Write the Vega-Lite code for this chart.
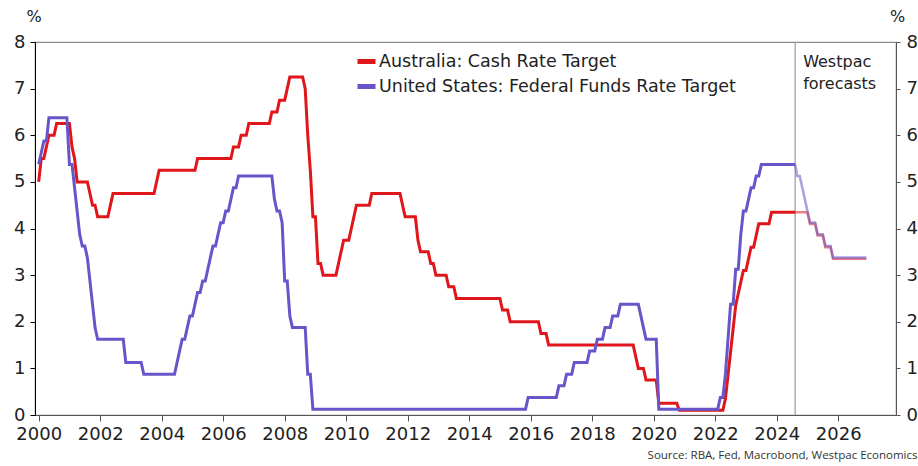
{
  "$schema": "https://vega.github.io/schema/vega-lite/v6.json",
  "width": 861,
  "height": 373,
  "autosize": {"type": "none"},
  "padding": {"left": 35, "top": 42, "right": 22, "bottom": 51},
  "background": "white",
  "config": {
    "font": "DejaVu Sans",
    "view": {"stroke": "#8a8a8a", "strokeWidth": 1.2}
  },
  "title": {
    "text": "Source: RBA, Fed, Macrobond, Westpac Economics",
    "orient": "bottom",
    "anchor": "end",
    "font": "Open Sans",
    "fontSize": 11.5,
    "fontWeight": "normal",
    "color": "#333",
    "offset": 7
  },
  "datasets": {
    "rates": [
      {"series": "Australia: Cash Rate Target", "phase": "Actual", "year": 2000.000, "rate": 5.00},
      {"series": "Australia: Cash Rate Target", "phase": "Actual", "year": 2000.083, "rate": 5.50},
      {"series": "Australia: Cash Rate Target", "phase": "Actual", "year": 2000.167, "rate": 5.50},
      {"series": "Australia: Cash Rate Target", "phase": "Actual", "year": 2000.250, "rate": 5.75},
      {"series": "Australia: Cash Rate Target", "phase": "Actual", "year": 2000.333, "rate": 6.00},
      {"series": "Australia: Cash Rate Target", "phase": "Actual", "year": 2000.500, "rate": 6.00},
      {"series": "Australia: Cash Rate Target", "phase": "Actual", "year": 2000.583, "rate": 6.25},
      {"series": "Australia: Cash Rate Target", "phase": "Actual", "year": 2001.000, "rate": 6.25},
      {"series": "Australia: Cash Rate Target", "phase": "Actual", "year": 2001.083, "rate": 5.75},
      {"series": "Australia: Cash Rate Target", "phase": "Actual", "year": 2001.167, "rate": 5.50},
      {"series": "Australia: Cash Rate Target", "phase": "Actual", "year": 2001.250, "rate": 5.00},
      {"series": "Australia: Cash Rate Target", "phase": "Actual", "year": 2001.583, "rate": 5.00},
      {"series": "Australia: Cash Rate Target", "phase": "Actual", "year": 2001.667, "rate": 4.75},
      {"series": "Australia: Cash Rate Target", "phase": "Actual", "year": 2001.750, "rate": 4.50},
      {"series": "Australia: Cash Rate Target", "phase": "Actual", "year": 2001.833, "rate": 4.50},
      {"series": "Australia: Cash Rate Target", "phase": "Actual", "year": 2001.917, "rate": 4.25},
      {"series": "Australia: Cash Rate Target", "phase": "Actual", "year": 2002.250, "rate": 4.25},
      {"series": "Australia: Cash Rate Target", "phase": "Actual", "year": 2002.333, "rate": 4.50},
      {"series": "Australia: Cash Rate Target", "phase": "Actual", "year": 2002.417, "rate": 4.75},
      {"series": "Australia: Cash Rate Target", "phase": "Actual", "year": 2003.750, "rate": 4.75},
      {"series": "Australia: Cash Rate Target", "phase": "Actual", "year": 2003.833, "rate": 5.00},
      {"series": "Australia: Cash Rate Target", "phase": "Actual", "year": 2003.917, "rate": 5.25},
      {"series": "Australia: Cash Rate Target", "phase": "Actual", "year": 2005.083, "rate": 5.25},
      {"series": "Australia: Cash Rate Target", "phase": "Actual", "year": 2005.167, "rate": 5.50},
      {"series": "Australia: Cash Rate Target", "phase": "Actual", "year": 2006.250, "rate": 5.50},
      {"series": "Australia: Cash Rate Target", "phase": "Actual", "year": 2006.333, "rate": 5.75},
      {"series": "Australia: Cash Rate Target", "phase": "Actual", "year": 2006.500, "rate": 5.75},
      {"series": "Australia: Cash Rate Target", "phase": "Actual", "year": 2006.583, "rate": 6.00},
      {"series": "Australia: Cash Rate Target", "phase": "Actual", "year": 2006.750, "rate": 6.00},
      {"series": "Australia: Cash Rate Target", "phase": "Actual", "year": 2006.833, "rate": 6.25},
      {"series": "Australia: Cash Rate Target", "phase": "Actual", "year": 2007.500, "rate": 6.25},
      {"series": "Australia: Cash Rate Target", "phase": "Actual", "year": 2007.583, "rate": 6.50},
      {"series": "Australia: Cash Rate Target", "phase": "Actual", "year": 2007.750, "rate": 6.50},
      {"series": "Australia: Cash Rate Target", "phase": "Actual", "year": 2007.833, "rate": 6.75},
      {"series": "Australia: Cash Rate Target", "phase": "Actual", "year": 2008.000, "rate": 6.75},
      {"series": "Australia: Cash Rate Target", "phase": "Actual", "year": 2008.083, "rate": 7.00},
      {"series": "Australia: Cash Rate Target", "phase": "Actual", "year": 2008.167, "rate": 7.25},
      {"series": "Australia: Cash Rate Target", "phase": "Actual", "year": 2008.583, "rate": 7.25},
      {"series": "Australia: Cash Rate Target", "phase": "Actual", "year": 2008.667, "rate": 7.00},
      {"series": "Australia: Cash Rate Target", "phase": "Actual", "year": 2008.750, "rate": 6.00},
      {"series": "Australia: Cash Rate Target", "phase": "Actual", "year": 2008.833, "rate": 5.25},
      {"series": "Australia: Cash Rate Target", "phase": "Actual", "year": 2008.917, "rate": 4.25},
      {"series": "Australia: Cash Rate Target", "phase": "Actual", "year": 2009.000, "rate": 4.25},
      {"series": "Australia: Cash Rate Target", "phase": "Actual", "year": 2009.083, "rate": 3.25},
      {"series": "Australia: Cash Rate Target", "phase": "Actual", "year": 2009.167, "rate": 3.25},
      {"series": "Australia: Cash Rate Target", "phase": "Actual", "year": 2009.250, "rate": 3.00},
      {"series": "Australia: Cash Rate Target", "phase": "Actual", "year": 2009.667, "rate": 3.00},
      {"series": "Australia: Cash Rate Target", "phase": "Actual", "year": 2009.750, "rate": 3.25},
      {"series": "Australia: Cash Rate Target", "phase": "Actual", "year": 2009.833, "rate": 3.50},
      {"series": "Australia: Cash Rate Target", "phase": "Actual", "year": 2009.917, "rate": 3.75},
      {"series": "Australia: Cash Rate Target", "phase": "Actual", "year": 2010.083, "rate": 3.75},
      {"series": "Australia: Cash Rate Target", "phase": "Actual", "year": 2010.167, "rate": 4.00},
      {"series": "Australia: Cash Rate Target", "phase": "Actual", "year": 2010.250, "rate": 4.25},
      {"series": "Australia: Cash Rate Target", "phase": "Actual", "year": 2010.333, "rate": 4.50},
      {"series": "Australia: Cash Rate Target", "phase": "Actual", "year": 2010.750, "rate": 4.50},
      {"series": "Australia: Cash Rate Target", "phase": "Actual", "year": 2010.833, "rate": 4.75},
      {"series": "Australia: Cash Rate Target", "phase": "Actual", "year": 2011.750, "rate": 4.75},
      {"series": "Australia: Cash Rate Target", "phase": "Actual", "year": 2011.833, "rate": 4.50},
      {"series": "Australia: Cash Rate Target", "phase": "Actual", "year": 2011.917, "rate": 4.25},
      {"series": "Australia: Cash Rate Target", "phase": "Actual", "year": 2012.250, "rate": 4.25},
      {"series": "Australia: Cash Rate Target", "phase": "Actual", "year": 2012.333, "rate": 3.75},
      {"series": "Australia: Cash Rate Target", "phase": "Actual", "year": 2012.417, "rate": 3.50},
      {"series": "Australia: Cash Rate Target", "phase": "Actual", "year": 2012.667, "rate": 3.50},
      {"series": "Australia: Cash Rate Target", "phase": "Actual", "year": 2012.750, "rate": 3.25},
      {"series": "Australia: Cash Rate Target", "phase": "Actual", "year": 2012.833, "rate": 3.25},
      {"series": "Australia: Cash Rate Target", "phase": "Actual", "year": 2012.917, "rate": 3.00},
      {"series": "Australia: Cash Rate Target", "phase": "Actual", "year": 2013.250, "rate": 3.00},
      {"series": "Australia: Cash Rate Target", "phase": "Actual", "year": 2013.333, "rate": 2.75},
      {"series": "Australia: Cash Rate Target", "phase": "Actual", "year": 2013.500, "rate": 2.75},
      {"series": "Australia: Cash Rate Target", "phase": "Actual", "year": 2013.583, "rate": 2.50},
      {"series": "Australia: Cash Rate Target", "phase": "Actual", "year": 2015.000, "rate": 2.50},
      {"series": "Australia: Cash Rate Target", "phase": "Actual", "year": 2015.083, "rate": 2.25},
      {"series": "Australia: Cash Rate Target", "phase": "Actual", "year": 2015.250, "rate": 2.25},
      {"series": "Australia: Cash Rate Target", "phase": "Actual", "year": 2015.333, "rate": 2.00},
      {"series": "Australia: Cash Rate Target", "phase": "Actual", "year": 2016.250, "rate": 2.00},
      {"series": "Australia: Cash Rate Target", "phase": "Actual", "year": 2016.333, "rate": 1.75},
      {"series": "Australia: Cash Rate Target", "phase": "Actual", "year": 2016.500, "rate": 1.75},
      {"series": "Australia: Cash Rate Target", "phase": "Actual", "year": 2016.583, "rate": 1.50},
      {"series": "Australia: Cash Rate Target", "phase": "Actual", "year": 2019.333, "rate": 1.50},
      {"series": "Australia: Cash Rate Target", "phase": "Actual", "year": 2019.417, "rate": 1.25},
      {"series": "Australia: Cash Rate Target", "phase": "Actual", "year": 2019.500, "rate": 1.00},
      {"series": "Australia: Cash Rate Target", "phase": "Actual", "year": 2019.667, "rate": 1.00},
      {"series": "Australia: Cash Rate Target", "phase": "Actual", "year": 2019.750, "rate": 0.75},
      {"series": "Australia: Cash Rate Target", "phase": "Actual", "year": 2020.083, "rate": 0.75},
      {"series": "Australia: Cash Rate Target", "phase": "Actual", "year": 2020.167, "rate": 0.25},
      {"series": "Australia: Cash Rate Target", "phase": "Actual", "year": 2020.750, "rate": 0.25},
      {"series": "Australia: Cash Rate Target", "phase": "Actual", "year": 2020.833, "rate": 0.10},
      {"series": "Australia: Cash Rate Target", "phase": "Actual", "year": 2022.250, "rate": 0.10},
      {"series": "Australia: Cash Rate Target", "phase": "Actual", "year": 2022.333, "rate": 0.35},
      {"series": "Australia: Cash Rate Target", "phase": "Actual", "year": 2022.417, "rate": 0.85},
      {"series": "Australia: Cash Rate Target", "phase": "Actual", "year": 2022.500, "rate": 1.35},
      {"series": "Australia: Cash Rate Target", "phase": "Actual", "year": 2022.583, "rate": 1.85},
      {"series": "Australia: Cash Rate Target", "phase": "Actual", "year": 2022.667, "rate": 2.35},
      {"series": "Australia: Cash Rate Target", "phase": "Actual", "year": 2022.750, "rate": 2.60},
      {"series": "Australia: Cash Rate Target", "phase": "Actual", "year": 2022.833, "rate": 2.85},
      {"series": "Australia: Cash Rate Target", "phase": "Actual", "year": 2022.917, "rate": 3.10},
      {"series": "Australia: Cash Rate Target", "phase": "Actual", "year": 2023.000, "rate": 3.10},
      {"series": "Australia: Cash Rate Target", "phase": "Actual", "year": 2023.083, "rate": 3.35},
      {"series": "Australia: Cash Rate Target", "phase": "Actual", "year": 2023.167, "rate": 3.60},
      {"series": "Australia: Cash Rate Target", "phase": "Actual", "year": 2023.250, "rate": 3.60},
      {"series": "Australia: Cash Rate Target", "phase": "Actual", "year": 2023.333, "rate": 3.85},
      {"series": "Australia: Cash Rate Target", "phase": "Actual", "year": 2023.417, "rate": 4.10},
      {"series": "Australia: Cash Rate Target", "phase": "Actual", "year": 2023.750, "rate": 4.10},
      {"series": "Australia: Cash Rate Target", "phase": "Actual", "year": 2023.833, "rate": 4.35},
      {"series": "Australia: Cash Rate Target", "phase": "Actual", "year": 2024.600, "rate": 4.35},
      {"series": "Australia: Cash Rate Target", "phase": "Forecast", "year": 2024.600, "rate": 4.35},
      {"series": "Australia: Cash Rate Target", "phase": "Forecast", "year": 2025.000, "rate": 4.35},
      {"series": "Australia: Cash Rate Target", "phase": "Forecast", "year": 2025.083, "rate": 4.10},
      {"series": "Australia: Cash Rate Target", "phase": "Forecast", "year": 2025.250, "rate": 4.10},
      {"series": "Australia: Cash Rate Target", "phase": "Forecast", "year": 2025.333, "rate": 3.85},
      {"series": "Australia: Cash Rate Target", "phase": "Forecast", "year": 2025.500, "rate": 3.85},
      {"series": "Australia: Cash Rate Target", "phase": "Forecast", "year": 2025.583, "rate": 3.60},
      {"series": "Australia: Cash Rate Target", "phase": "Forecast", "year": 2025.750, "rate": 3.60},
      {"series": "Australia: Cash Rate Target", "phase": "Forecast", "year": 2025.833, "rate": 3.35},
      {"series": "Australia: Cash Rate Target", "phase": "Forecast", "year": 2026.917, "rate": 3.35},
      {"series": "United States: Federal Funds Rate Target", "phase": "Actual", "year": 2000.000, "rate": 5.375},
      {"series": "United States: Federal Funds Rate Target", "phase": "Actual", "year": 2000.083, "rate": 5.625},
      {"series": "United States: Federal Funds Rate Target", "phase": "Actual", "year": 2000.167, "rate": 5.875},
      {"series": "United States: Federal Funds Rate Target", "phase": "Actual", "year": 2000.250, "rate": 5.875},
      {"series": "United States: Federal Funds Rate Target", "phase": "Actual", "year": 2000.333, "rate": 6.375},
      {"series": "United States: Federal Funds Rate Target", "phase": "Actual", "year": 2000.917, "rate": 6.375},
      {"series": "United States: Federal Funds Rate Target", "phase": "Actual", "year": 2001.000, "rate": 5.375},
      {"series": "United States: Federal Funds Rate Target", "phase": "Actual", "year": 2001.083, "rate": 5.375},
      {"series": "United States: Federal Funds Rate Target", "phase": "Actual", "year": 2001.167, "rate": 4.875},
      {"series": "United States: Federal Funds Rate Target", "phase": "Actual", "year": 2001.250, "rate": 4.375},
      {"series": "United States: Federal Funds Rate Target", "phase": "Actual", "year": 2001.333, "rate": 3.875},
      {"series": "United States: Federal Funds Rate Target", "phase": "Actual", "year": 2001.417, "rate": 3.625},
      {"series": "United States: Federal Funds Rate Target", "phase": "Actual", "year": 2001.500, "rate": 3.625},
      {"series": "United States: Federal Funds Rate Target", "phase": "Actual", "year": 2001.583, "rate": 3.375},
      {"series": "United States: Federal Funds Rate Target", "phase": "Actual", "year": 2001.667, "rate": 2.875},
      {"series": "United States: Federal Funds Rate Target", "phase": "Actual", "year": 2001.750, "rate": 2.375},
      {"series": "United States: Federal Funds Rate Target", "phase": "Actual", "year": 2001.833, "rate": 1.875},
      {"series": "United States: Federal Funds Rate Target", "phase": "Actual", "year": 2001.917, "rate": 1.625},
      {"series": "United States: Federal Funds Rate Target", "phase": "Actual", "year": 2002.750, "rate": 1.625},
      {"series": "United States: Federal Funds Rate Target", "phase": "Actual", "year": 2002.833, "rate": 1.125},
      {"series": "United States: Federal Funds Rate Target", "phase": "Actual", "year": 2003.333, "rate": 1.125},
      {"series": "United States: Federal Funds Rate Target", "phase": "Actual", "year": 2003.417, "rate": 0.875},
      {"series": "United States: Federal Funds Rate Target", "phase": "Actual", "year": 2004.417, "rate": 0.875},
      {"series": "United States: Federal Funds Rate Target", "phase": "Actual", "year": 2004.500, "rate": 1.125},
      {"series": "United States: Federal Funds Rate Target", "phase": "Actual", "year": 2004.583, "rate": 1.375},
      {"series": "United States: Federal Funds Rate Target", "phase": "Actual", "year": 2004.667, "rate": 1.625},
      {"series": "United States: Federal Funds Rate Target", "phase": "Actual", "year": 2004.750, "rate": 1.625},
      {"series": "United States: Federal Funds Rate Target", "phase": "Actual", "year": 2004.833, "rate": 1.875},
      {"series": "United States: Federal Funds Rate Target", "phase": "Actual", "year": 2004.917, "rate": 2.125},
      {"series": "United States: Federal Funds Rate Target", "phase": "Actual", "year": 2005.000, "rate": 2.125},
      {"series": "United States: Federal Funds Rate Target", "phase": "Actual", "year": 2005.083, "rate": 2.375},
      {"series": "United States: Federal Funds Rate Target", "phase": "Actual", "year": 2005.167, "rate": 2.625},
      {"series": "United States: Federal Funds Rate Target", "phase": "Actual", "year": 2005.250, "rate": 2.625},
      {"series": "United States: Federal Funds Rate Target", "phase": "Actual", "year": 2005.333, "rate": 2.875},
      {"series": "United States: Federal Funds Rate Target", "phase": "Actual", "year": 2005.417, "rate": 2.875},
      {"series": "United States: Federal Funds Rate Target", "phase": "Actual", "year": 2005.500, "rate": 3.125},
      {"series": "United States: Federal Funds Rate Target", "phase": "Actual", "year": 2005.583, "rate": 3.375},
      {"series": "United States: Federal Funds Rate Target", "phase": "Actual", "year": 2005.667, "rate": 3.625},
      {"series": "United States: Federal Funds Rate Target", "phase": "Actual", "year": 2005.750, "rate": 3.625},
      {"series": "United States: Federal Funds Rate Target", "phase": "Actual", "year": 2005.833, "rate": 3.875},
      {"series": "United States: Federal Funds Rate Target", "phase": "Actual", "year": 2005.917, "rate": 4.125},
      {"series": "United States: Federal Funds Rate Target", "phase": "Actual", "year": 2006.000, "rate": 4.125},
      {"series": "United States: Federal Funds Rate Target", "phase": "Actual", "year": 2006.083, "rate": 4.375},
      {"series": "United States: Federal Funds Rate Target", "phase": "Actual", "year": 2006.167, "rate": 4.375},
      {"series": "United States: Federal Funds Rate Target", "phase": "Actual", "year": 2006.250, "rate": 4.625},
      {"series": "United States: Federal Funds Rate Target", "phase": "Actual", "year": 2006.333, "rate": 4.875},
      {"series": "United States: Federal Funds Rate Target", "phase": "Actual", "year": 2006.417, "rate": 4.875},
      {"series": "United States: Federal Funds Rate Target", "phase": "Actual", "year": 2006.500, "rate": 5.125},
      {"series": "United States: Federal Funds Rate Target", "phase": "Actual", "year": 2007.583, "rate": 5.125},
      {"series": "United States: Federal Funds Rate Target", "phase": "Actual", "year": 2007.667, "rate": 4.625},
      {"series": "United States: Federal Funds Rate Target", "phase": "Actual", "year": 2007.750, "rate": 4.375},
      {"series": "United States: Federal Funds Rate Target", "phase": "Actual", "year": 2007.833, "rate": 4.375},
      {"series": "United States: Federal Funds Rate Target", "phase": "Actual", "year": 2007.917, "rate": 4.125},
      {"series": "United States: Federal Funds Rate Target", "phase": "Actual", "year": 2008.000, "rate": 2.875},
      {"series": "United States: Federal Funds Rate Target", "phase": "Actual", "year": 2008.083, "rate": 2.875},
      {"series": "United States: Federal Funds Rate Target", "phase": "Actual", "year": 2008.167, "rate": 2.125},
      {"series": "United States: Federal Funds Rate Target", "phase": "Actual", "year": 2008.250, "rate": 1.875},
      {"series": "United States: Federal Funds Rate Target", "phase": "Actual", "year": 2008.667, "rate": 1.875},
      {"series": "United States: Federal Funds Rate Target", "phase": "Actual", "year": 2008.750, "rate": 0.875},
      {"series": "United States: Federal Funds Rate Target", "phase": "Actual", "year": 2008.833, "rate": 0.875},
      {"series": "United States: Federal Funds Rate Target", "phase": "Actual", "year": 2008.917, "rate": 0.125},
      {"series": "United States: Federal Funds Rate Target", "phase": "Actual", "year": 2015.833, "rate": 0.125},
      {"series": "United States: Federal Funds Rate Target", "phase": "Actual", "year": 2015.917, "rate": 0.375},
      {"series": "United States: Federal Funds Rate Target", "phase": "Actual", "year": 2016.833, "rate": 0.375},
      {"series": "United States: Federal Funds Rate Target", "phase": "Actual", "year": 2016.917, "rate": 0.625},
      {"series": "United States: Federal Funds Rate Target", "phase": "Actual", "year": 2017.083, "rate": 0.625},
      {"series": "United States: Federal Funds Rate Target", "phase": "Actual", "year": 2017.167, "rate": 0.875},
      {"series": "United States: Federal Funds Rate Target", "phase": "Actual", "year": 2017.333, "rate": 0.875},
      {"series": "United States: Federal Funds Rate Target", "phase": "Actual", "year": 2017.417, "rate": 1.125},
      {"series": "United States: Federal Funds Rate Target", "phase": "Actual", "year": 2017.833, "rate": 1.125},
      {"series": "United States: Federal Funds Rate Target", "phase": "Actual", "year": 2017.917, "rate": 1.375},
      {"series": "United States: Federal Funds Rate Target", "phase": "Actual", "year": 2018.083, "rate": 1.375},
      {"series": "United States: Federal Funds Rate Target", "phase": "Actual", "year": 2018.167, "rate": 1.625},
      {"series": "United States: Federal Funds Rate Target", "phase": "Actual", "year": 2018.333, "rate": 1.625},
      {"series": "United States: Federal Funds Rate Target", "phase": "Actual", "year": 2018.417, "rate": 1.875},
      {"series": "United States: Federal Funds Rate Target", "phase": "Actual", "year": 2018.583, "rate": 1.875},
      {"series": "United States: Federal Funds Rate Target", "phase": "Actual", "year": 2018.667, "rate": 2.125},
      {"series": "United States: Federal Funds Rate Target", "phase": "Actual", "year": 2018.833, "rate": 2.125},
      {"series": "United States: Federal Funds Rate Target", "phase": "Actual", "year": 2018.917, "rate": 2.375},
      {"series": "United States: Federal Funds Rate Target", "phase": "Actual", "year": 2019.500, "rate": 2.375},
      {"series": "United States: Federal Funds Rate Target", "phase": "Actual", "year": 2019.583, "rate": 2.125},
      {"series": "United States: Federal Funds Rate Target", "phase": "Actual", "year": 2019.667, "rate": 1.875},
      {"series": "United States: Federal Funds Rate Target", "phase": "Actual", "year": 2019.750, "rate": 1.625},
      {"series": "United States: Federal Funds Rate Target", "phase": "Actual", "year": 2020.083, "rate": 1.625},
      {"series": "United States: Federal Funds Rate Target", "phase": "Actual", "year": 2020.167, "rate": 0.125},
      {"series": "United States: Federal Funds Rate Target", "phase": "Actual", "year": 2022.083, "rate": 0.125},
      {"series": "United States: Federal Funds Rate Target", "phase": "Actual", "year": 2022.167, "rate": 0.375},
      {"series": "United States: Federal Funds Rate Target", "phase": "Actual", "year": 2022.250, "rate": 0.375},
      {"series": "United States: Federal Funds Rate Target", "phase": "Actual", "year": 2022.333, "rate": 0.875},
      {"series": "United States: Federal Funds Rate Target", "phase": "Actual", "year": 2022.417, "rate": 1.625},
      {"series": "United States: Federal Funds Rate Target", "phase": "Actual", "year": 2022.500, "rate": 2.375},
      {"series": "United States: Federal Funds Rate Target", "phase": "Actual", "year": 2022.583, "rate": 2.375},
      {"series": "United States: Federal Funds Rate Target", "phase": "Actual", "year": 2022.667, "rate": 3.125},
      {"series": "United States: Federal Funds Rate Target", "phase": "Actual", "year": 2022.750, "rate": 3.125},
      {"series": "United States: Federal Funds Rate Target", "phase": "Actual", "year": 2022.833, "rate": 3.875},
      {"series": "United States: Federal Funds Rate Target", "phase": "Actual", "year": 2022.917, "rate": 4.375},
      {"series": "United States: Federal Funds Rate Target", "phase": "Actual", "year": 2023.000, "rate": 4.375},
      {"series": "United States: Federal Funds Rate Target", "phase": "Actual", "year": 2023.083, "rate": 4.625},
      {"series": "United States: Federal Funds Rate Target", "phase": "Actual", "year": 2023.167, "rate": 4.875},
      {"series": "United States: Federal Funds Rate Target", "phase": "Actual", "year": 2023.250, "rate": 4.875},
      {"series": "United States: Federal Funds Rate Target", "phase": "Actual", "year": 2023.333, "rate": 5.125},
      {"series": "United States: Federal Funds Rate Target", "phase": "Actual", "year": 2023.417, "rate": 5.125},
      {"series": "United States: Federal Funds Rate Target", "phase": "Actual", "year": 2023.500, "rate": 5.375},
      {"series": "United States: Federal Funds Rate Target", "phase": "Actual", "year": 2024.600, "rate": 5.375},
      {"series": "United States: Federal Funds Rate Target", "phase": "Forecast", "year": 2024.600, "rate": 5.375},
      {"series": "United States: Federal Funds Rate Target", "phase": "Forecast", "year": 2024.667, "rate": 5.125},
      {"series": "United States: Federal Funds Rate Target", "phase": "Forecast", "year": 2024.750, "rate": 5.125},
      {"series": "United States: Federal Funds Rate Target", "phase": "Forecast", "year": 2024.833, "rate": 4.875},
      {"series": "United States: Federal Funds Rate Target", "phase": "Forecast", "year": 2024.917, "rate": 4.625},
      {"series": "United States: Federal Funds Rate Target", "phase": "Forecast", "year": 2025.000, "rate": 4.375},
      {"series": "United States: Federal Funds Rate Target", "phase": "Forecast", "year": 2025.083, "rate": 4.125},
      {"series": "United States: Federal Funds Rate Target", "phase": "Forecast", "year": 2025.250, "rate": 4.125},
      {"series": "United States: Federal Funds Rate Target", "phase": "Forecast", "year": 2025.333, "rate": 3.875},
      {"series": "United States: Federal Funds Rate Target", "phase": "Forecast", "year": 2025.500, "rate": 3.875},
      {"series": "United States: Federal Funds Rate Target", "phase": "Forecast", "year": 2025.583, "rate": 3.625},
      {"series": "United States: Federal Funds Rate Target", "phase": "Forecast", "year": 2025.750, "rate": 3.625},
      {"series": "United States: Federal Funds Rate Target", "phase": "Forecast", "year": 2025.833, "rate": 3.375},
      {"series": "United States: Federal Funds Rate Target", "phase": "Forecast", "year": 2026.917, "rate": 3.375}
    ]
  },
  "layer": [
    {
      "data": {"values": [{"year": 2024.6}]},
      "mark": {"type": "rule", "color": "#9a9a9a", "strokeWidth": 1.2},
      "encoding": {
        "x": {"field": "year", "type": "quantitative", "scale": {"domain": [1999.88, 2027.88], "nice": false, "zero": false}}
      }
    },
    {
      "data": {"name": "rates"},
      "transform": [{"filter": "datum.phase === 'Actual'"}],
      "mark": {"type": "line", "strokeWidth": 3, "interpolate": "linear"},
      "encoding": {
        "x": {
          "field": "year", "type": "quantitative",
          "scale": {"domain": [1999.88, 2027.88], "nice": false, "zero": false},
          "axis": {
            "values": [2000, 2002, 2004, 2006, 2008, 2010, 2012, 2014, 2016, 2018, 2020, 2022, 2024, 2026],
            "format": "d", "title": null, "grid": false,
            "domainColor": "#555", "tickColor": "#555", "tickSize": 6,
            "labelFontSize": 18, "labelColor": "#222", "labelPadding": 4, "labelFlush": false
          }
        },
        "y": {
          "field": "rate", "type": "quantitative",
          "scale": {"domain": [0, 8], "nice": false},
          "axis": {
            "orient": "left", "values": [0, 1, 2, 3, 4, 5, 6, 7, 8], "grid": false,
            "title": "%", "titleAngle": 0, "titleX": -1.5, "titleY": -25.5,
            "titleAlign": "center", "titleBaseline": "middle",
            "titleFontSize": 16, "titleFontWeight": "normal", "titleColor": "#222",
            "domainColor": "#000", "tickColor": "#000", "tickSize": 5,
            "labelPadding": 5, "labelFontSize": 18, "labelColor": "#222"
          }
        },
        "color": {
          "field": "series", "type": "nominal",
          "scale": {"domain": ["Australia: Cash Rate Target", "United States: Federal Funds Rate Target"], "range": ["#e0161b", "#6656c9"]},
          "legend": {
            "orient": "none", "legendX": 320, "legendY": 8, "title": null,
            "symbolType": "stroke", "symbolStrokeWidth": 5, "symbolSize": 324,
            "labelFontSize": 17.5, "labelColor": "#222", "labelLimit": 0,
            "rowPadding": 3, "labelOffset": 1, "padding": 0
          }
        }
      }
    },
    {
      "data": {"name": "rates"},
      "transform": [{"filter": "datum.phase === 'Forecast'"}],
      "mark": {"type": "line", "strokeWidth": 2.6, "opacity": 0.55, "interpolate": "linear"},
      "encoding": {
        "x": {"field": "year", "type": "quantitative", "scale": {"domain": [1999.88, 2027.88], "nice": false, "zero": false}},
        "y": {
          "field": "rate", "type": "quantitative",
          "scale": {"domain": [0, 8], "nice": false},
          "axis": {
            "orient": "right", "values": [0, 1, 2, 3, 4, 5, 6, 7, 8], "grid": false,
            "title": "%", "titleAngle": 0, "titleX": 1, "titleY": -25.5,
            "titleAlign": "center", "titleBaseline": "middle",
            "titleFontSize": 16, "titleFontWeight": "normal", "titleColor": "#222",
            "domainColor": "#555", "tickColor": "#555", "tickSize": 4,
            "labelPadding": 6, "labelFontSize": 18, "labelColor": "#222"
          }
        },
        "color": {"field": "series", "type": "nominal", "legend": null}
      }
    },
    {
      "data": {"values": [{"year": 2024.6, "label": "Westpac\nforecasts"}]},
      "mark": {"type": "text", "align": "left", "baseline": "alphabetic", "dx": 8, "fontSize": 16, "lineHeight": 22, "lineBreak": "\n", "color": "#222"},
      "encoding": {
        "x": {"field": "year", "type": "quantitative", "scale": {"domain": [1999.88, 2027.88], "nice": false, "zero": false}},
        "y": {"datum": 7.457, "type": "quantitative", "scale": {"domain": [0, 8], "nice": false}, "axis": null},
        "text": {"field": "label"}
      }
    }
  ],
  "resolve": {"axis": {"y": "independent"}}
}
